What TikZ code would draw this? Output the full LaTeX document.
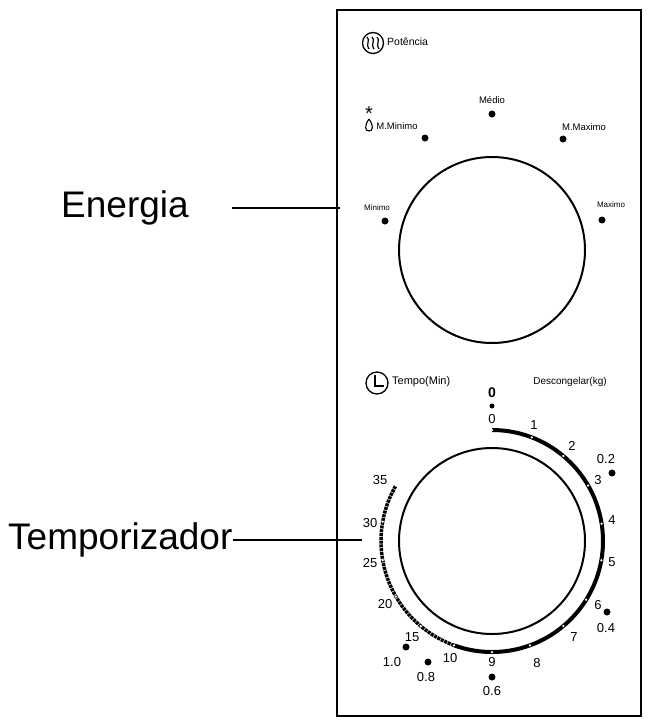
\documentclass[tikz,border=0pt]{standalone}
\usepackage{fontspec}
\setmainfont{Liberation Sans}
\usetikzlibrary{calc}
\begin{document}
\begin{tikzpicture}[x=1pt,y=-1pt,
 lbl/.style={font=\fontsize{9.5}{10}\selectfont,inner sep=0pt},
 num/.style={font=\fontsize{13}{13}\selectfont,inner sep=0pt},
 big/.style={font=\fontsize{37}{40}\selectfont,inner sep=0pt},
 dot/.style={circle,fill=black,inner sep=0pt,minimum size=7pt},
 tick/.style={circle,fill=white,inner sep=0pt,minimum size=2.5pt}]
\useasboundingbox (0,0) rectangle (651,726);
\draw[line width=2pt] (337,10) rectangle (641,716);
% top
\node[circle,draw,line width=1.3pt,minimum size=21pt,inner sep=0pt] (pi) at (373,43) {};
\foreach \dx in {-5,0,5}{\draw[line width=1.2pt] (373+\dx-1,37) .. controls (373+\dx+3,40) and (373+\dx-3,45) .. (373+\dx+1,49);}
\node[lbl,anchor=west,font=\fontsize{10.5}{11}\selectfont] (pot) at (387,42) {Potência};
\node[circle,draw,line width=2pt,minimum size=186pt,inner sep=0pt] (d1) at (492,250) {};
\node[dot] (dme) at (492,114) {}; \node[lbl] (tme) at (492,100) {Médio};
\node[dot] (dmm) at (425,138) {}; \node[lbl] (tmm) at (397,126) {M.Minimo};
\node[dot] (dmx) at (563,139) {}; \node[lbl] (tmx) at (584,127) {M.Maximo};
\node[dot] (dmi) at (385,221) {}; \node[lbl,font=\fontsize{8}{9}\selectfont] (tmi) at (377,208) {Minimo};
\node[dot] (dma) at (602,220) {}; \node[lbl,font=\fontsize{8}{9}\selectfont] (tma) at (611,205) {Maximo};
\node[inner sep=0pt,font=\fontsize{20}{20}\selectfont] (snow) at (369,114) {*};
\draw[line width=1.1pt] (369,119) .. controls (364,126) and (365,131) .. (369,131) .. controls (373,131) and (374,126) .. (369,119);
% labels left
\node[big] (en) at (125,208) {Energia};
\coordinate (enb) at (340,208);
\draw[line width=1.2pt] (232,208) -- (enb);
\node[big,anchor=west] (tp) at (8,540) {Temporizador};
\coordinate (tpb) at (362,540);
\draw[line width=1.2pt] (tp.east) -- (tpb);
% bottom
\node[circle,draw,line width=1.3pt,minimum size=22pt,inner sep=0pt] (ci) at (377,383) {};
\draw[line width=1.2pt] (375,375) -- (375,386) -- (384,386);
\node[lbl,anchor=west,font=\fontsize{11}{12}\selectfont] (tm) at (392,382) {Tempo(Min)};
\node[lbl,font=\fontsize{10}{11}\selectfont] (dc) at (570,382) {Descongelar(kg)};
\node[circle,draw,line width=2pt,minimum size=186pt,inner sep=0pt] (d2) at (492,541) {};
\coordinate (c2) at (492,541);
\draw[line width=4pt] ($(c2)+(-90:111)$) arc[start angle=-90,end angle=110,radius=111];
\draw[line width=3.5pt,dash pattern=on 3pt off 0.8pt] ($(c2)+(110:111)$) arc[start angle=110,end angle=210,radius=111];
\foreach \m/\a in {0/90,1/69,2/50,3/30,4/9,5/-10,6/-32,7/-50,8/-70,9/-90,10/-110,15/-130,20/-150,25/-170,30/-190,35/-210}{
 \node[tick] (tk\m) at ($(c2)+(-\a:111)$) {};
}
\foreach \t/\x/\y in {0/492/419,1/534/425,2/572/446,3/598/480,4/612/520,5/612/562,6/598/605,7/574/637,8/537/663,9/492/662,10/450/658,15/412/637,20/385/604,25/370/563,30/370/523,35/380/480}{
 \node[num] (n\t) at (\x,\y) {\t};
}
\node[num,font=\fontsize{14}{14}\selectfont\bfseries] (z0) at (492,393) {0};
\node[dot,minimum size=5pt] (z0d) at (492,406) {};
\node[dot] (k2) at (612,473) {}; \node[num] (k2t) at (606,459) {0.2};
\node[dot] (k4) at (607,612) {}; \node[num] (k4t) at (606,628) {0.4};
\node[dot] (k6) at (492,677) {}; \node[num] (k6t) at (492,691) {0.6};
\node[dot] (k8) at (428,662) {}; \node[num] (k8t) at (426,677) {0.8};
\node[dot] (k10) at (406,647) {}; \node[num] (k10t) at (392,662) {1.0};
\end{tikzpicture}
\end{document}
